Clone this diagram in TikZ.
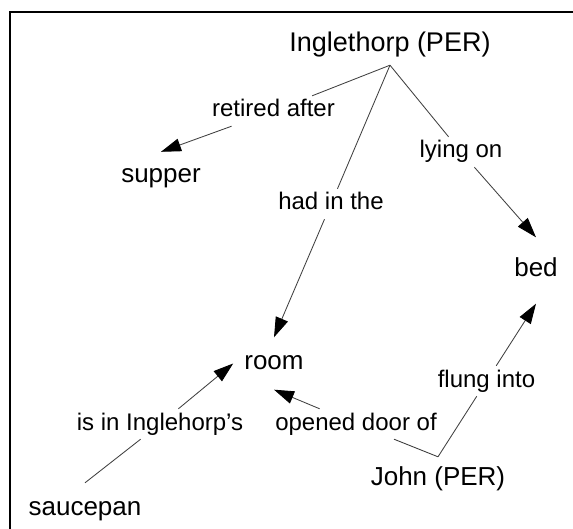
\documentclass[tikz,border=0pt]{standalone}
\usepackage{fontspec}
\setmainfont{Liberation Sans}
\usetikzlibrary{arrows.meta}
\begin{document}
\begin{tikzpicture}[x=1pt,y=-1pt,
  ent/.style={font=\fontsize{26}{30}\selectfont, text height=19.5pt, text depth=6.5pt, inner xsep=11pt, inner ysep=12pt, anchor=base},
  lab/.style={font=\fontsize{24}{28}\selectfont, text height=18pt, text depth=6pt, inner sep=3pt, anchor=base},
  edge/.style={draw=black!75, line width=0.85pt},
  arr/.style={edge, -{Triangle[length=20pt,width=13pt,color=black]}}]
\useasboundingbox (0,0) rectangle (573,529);
\draw[line width=2.6pt] (10,535) -- (10,12) -- (580,12);
% entities
\node[ent, font=\fontsize{27}{31}\selectfont, inner ysep=6.5pt] (ing) at (390,52) {Inglethorp (PER)};
\node[ent, inner ysep=11.5pt] (sup) at (161,183) {supper};
\node[ent, inner ysep=20pt] (bed) at (536,277) {bed};
\node[ent, inner ysep=13pt] (room) at (274,370) {room};
\node[ent, inner ysep=12.5pt] (sauce) at (85,515) {saucepan};
\node[ent, inner ysep=8.5pt] (john) at (438,485) {John (PER)};
% relation labels
\node[lab] (l1) at (273.5,117) {retired after};
\node[lab] (l2) at (331,210) {had in the};
\node[lab] (l3) at (461,158) {lying on};
\node[lab] (l4) at (486.5,387) {flung into};
\node[lab] (l5) at (356,430) {opened door of};
\node[lab] (l6) at (160,430) {is in Inglehorp’s};
% connectors
\draw[edge] (ing.south) -- (l1); \draw[arr] (l1) -- (sup.north);
\draw[edge] (ing.south) -- (l2); \draw[arr] (l2) -- (room.north);
\draw[edge] (ing.south) -- (l3); \draw[arr] (l3) -- (bed.north);
\draw[edge] (john.north) -- (l4); \draw[arr] (l4) -- (bed.south);
\draw[edge] (john.north) -- (l5); \draw[arr] (l5) -- (room.south);
\draw[edge] (sauce.north) -- (l6); \draw[arr] (l6) -- (room.west);
\end{tikzpicture}
\end{document}
